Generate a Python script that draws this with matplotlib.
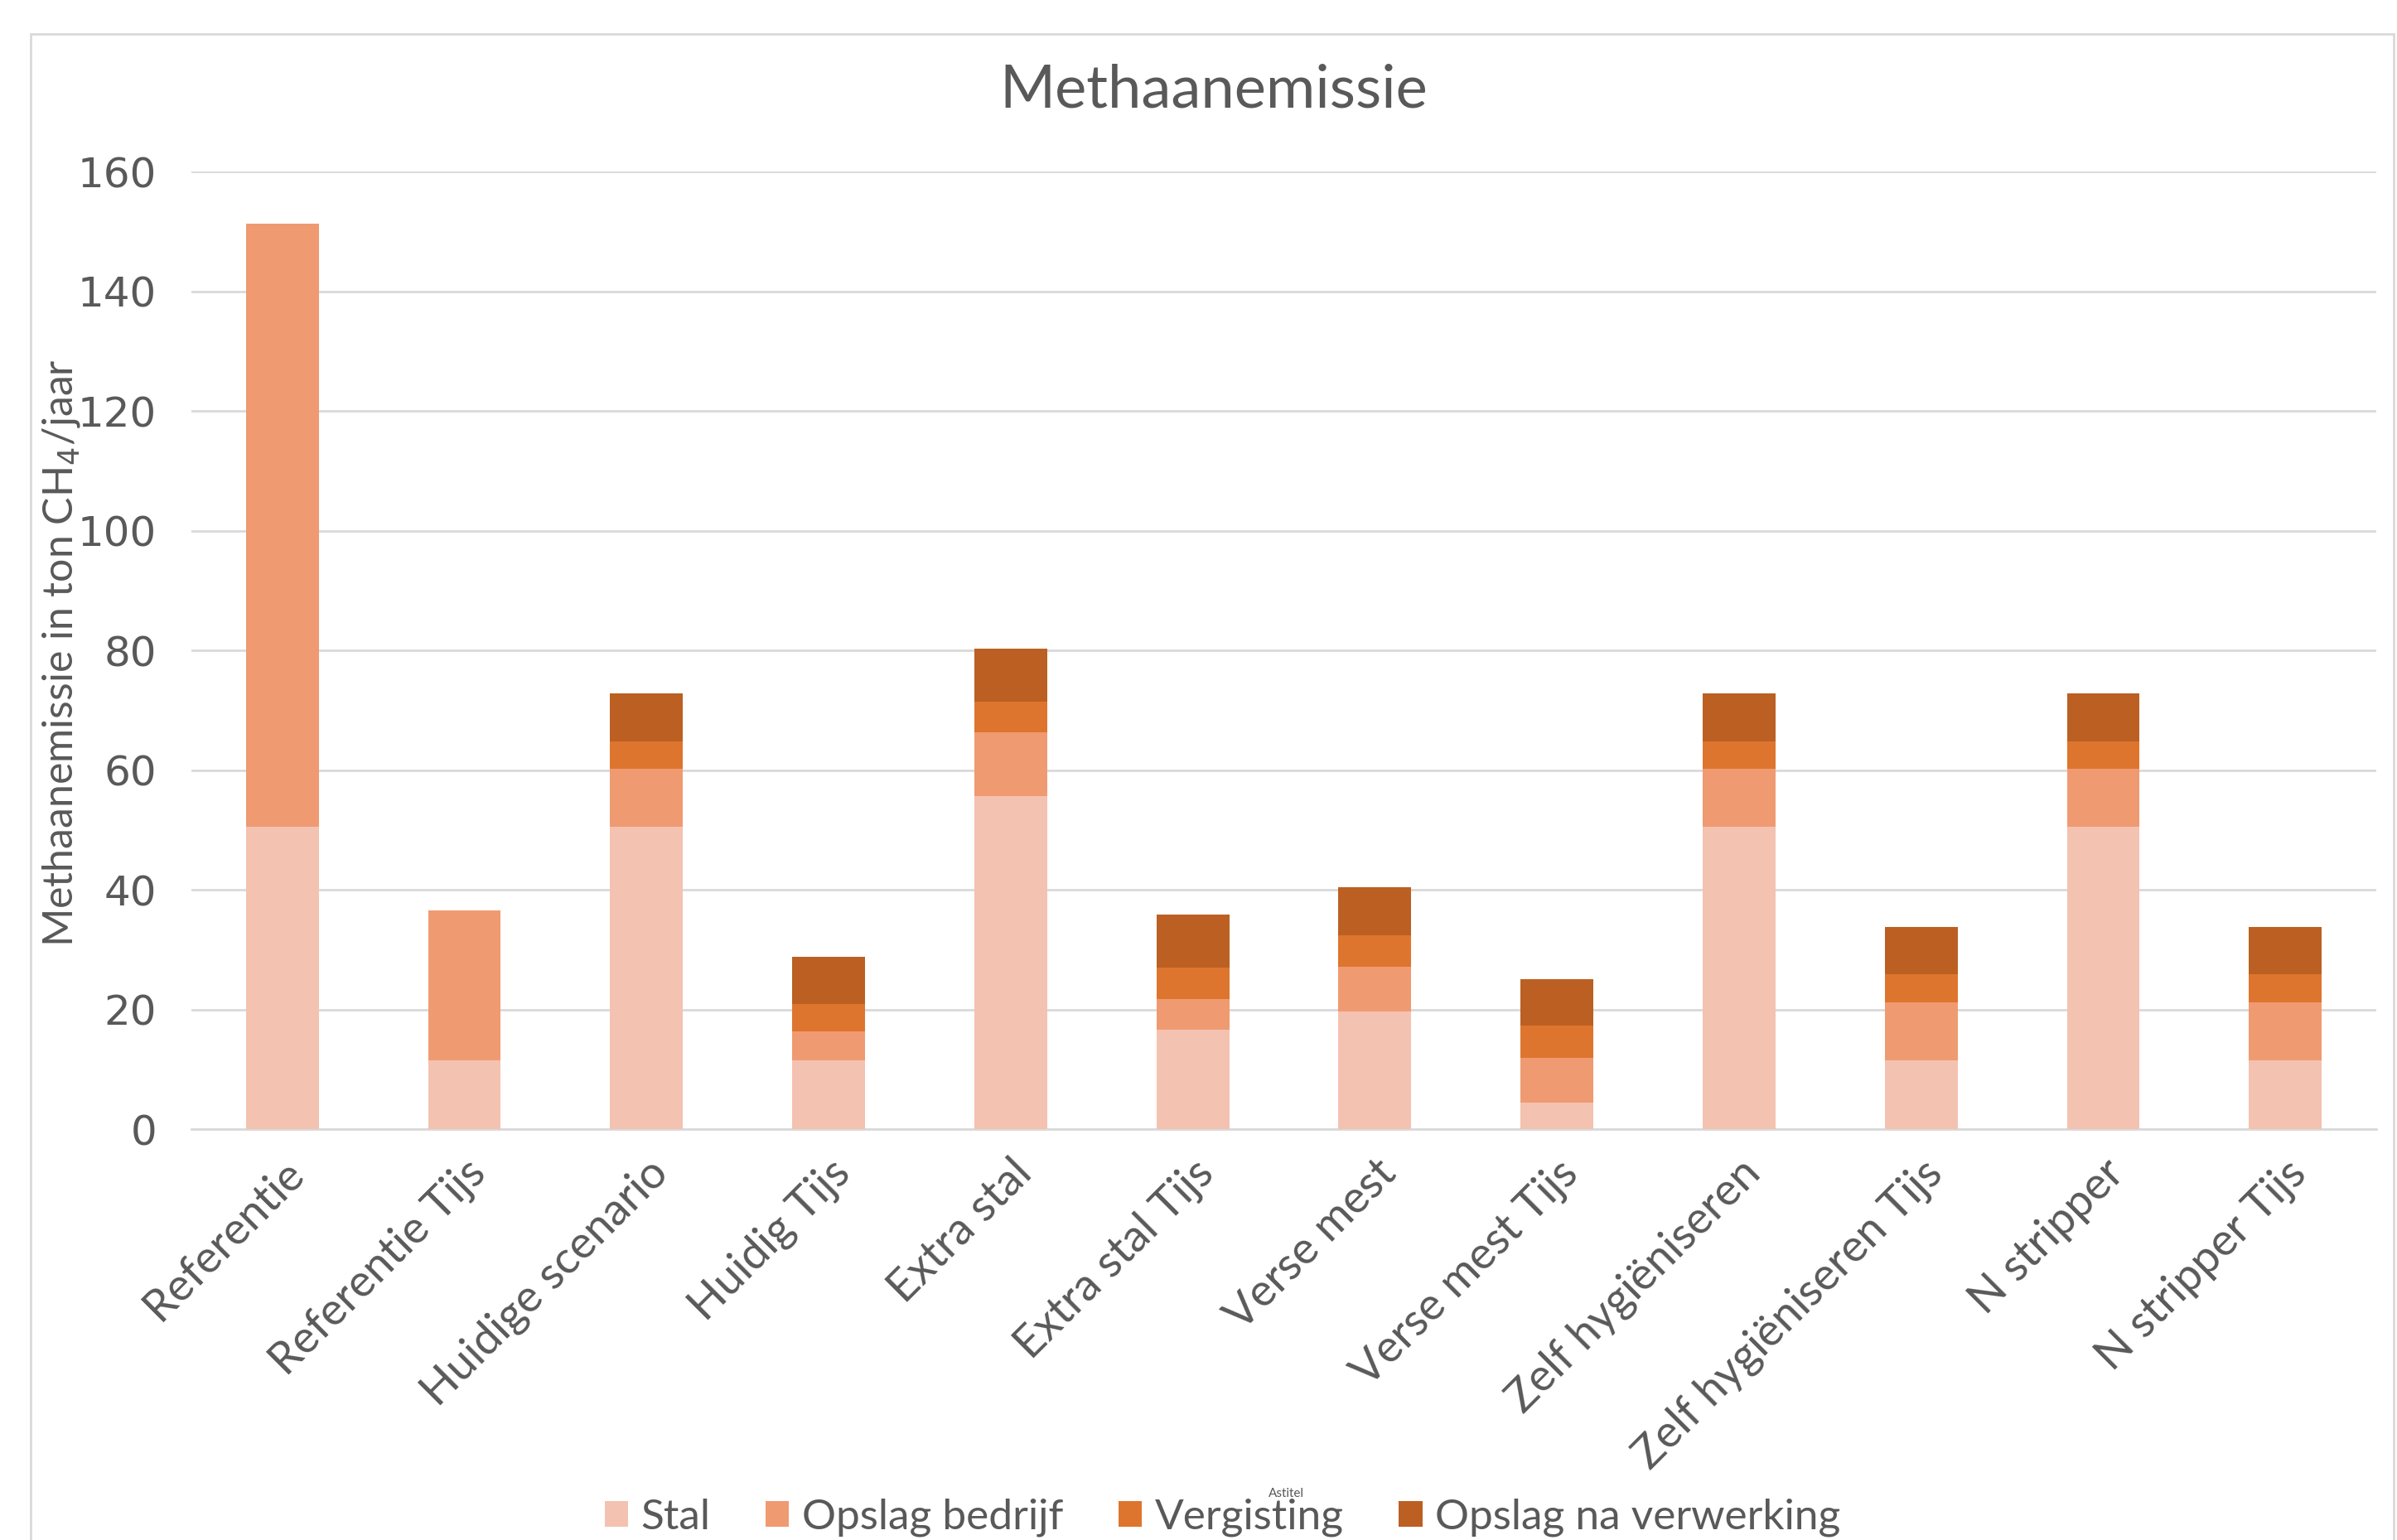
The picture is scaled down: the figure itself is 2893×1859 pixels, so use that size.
import matplotlib
matplotlib.use("Agg")
import numpy as np
from matplotlib import pyplot as plt
from matplotlib.patches import Rectangle

categories = ["Referentie", "Referentie Tijs", "Huidige scenario", "Huidig Tijs",
              "Extra stal", "Extra stal Tijs", "Verse mest", "Verse mest Tijs",
              "Zelf hygiëniseren", "Zelf hygiëniseren Tijs", "N stripper", "N stripper Tijs"]
stal = [50.5, 11.5, 50.5, 11.5, 55.6, 16.6, 19.6, 4.4, 50.5, 11.5, 50.5, 11.5]
opslag_bedrijf = [100.8, 25.1, 9.7, 4.8, 10.7, 5.2, 7.5, 7.5, 9.7, 9.7, 9.7, 9.7]
vergisting = [0, 0, 4.6, 4.6, 5.1, 5.2, 5.3, 5.4, 4.6, 4.7, 4.6, 4.7]
opslag_na = [0, 0, 8.0, 7.9, 8.9, 8.9, 8.0, 7.8, 8.0, 7.9, 8.0, 7.9]

series = ["Stal", "Opslag bedrijf", "Vergisting", "Opslag na verwerking"]
colors = ["#F4C2B1", "#F09A72", "#DE752E", "#BB6022"]
grey = "#595959"

plt.rcParams['font.family'] = ['Lato', 'DejaVu Sans']

fig = plt.figure(figsize=(28.93, 18.59), dpi=100)
ax = fig.add_axes([0.0798, 0.2668, 0.9116, 0.6218])

x = np.arange(len(categories))
bottom = np.zeros(len(categories))
for name, vals, c in zip(series, [stal, opslag_bedrijf, vergisting, opslag_na], colors):
    vals = np.array(vals)
    ax.bar(x, vals, width=0.4, bottom=bottom, color=c, label=name, zorder=3)
    bottom += vals

ax.set_xlim(-0.5, len(categories) - 0.5)
ax.set_ylim(0, 160)
ax.set_yticks(np.arange(0, 161, 20))
ax.grid(axis='y', color="#D9D9D9", linewidth=2, zorder=0)
for s in ['top', 'right', 'left']:
    ax.spines[s].set_visible(False)
ax.spines['bottom'].set_color("#D9D9D9")
ax.spines['bottom'].set_linewidth(2)
ax.tick_params(length=0, colors=grey)
ax.tick_params(axis='y', labelsize=36, pad=30)
for lab in ax.get_yticklabels():
    lab.set_family(['DejaVu Sans'])
ax.set_xticks(x)
ax.set_xticklabels(categories, rotation=45, ha='right', rotation_mode='anchor',
                   fontsize=39, color=grey)
ax.tick_params(axis='x', pad=20)

fig.text(0.5064, 1 - 109 / 1859, "Methaanemissie", ha='center', va='center',
         fontsize=52, color=grey)
fig.text(0.0255, 1 - 788 / 1859, "Methaanemissie in ton CH$_4$/jaar", rotation=90,
         ha='center', va='center', fontsize=36, color=grey,
         family=['Liberation Sans Narrow', 'Lato'])

fig.legend(loc='center', bbox_to_anchor=(0.51, 1 - 1832 / 1859), ncol=4, frameon=False,
           fontsize=37, handlelength=0.55, handleheight=0.55, handletextpad=0.3,
           columnspacing=1.3, labelcolor=grey)
fig.text(0.5365, 1 - 1803 / 1859, "Astitel", ha='center', va='center', fontsize=11, color=grey)

fig.patches.append(Rectangle((37 / 2893, -0.05), (2889 - 37) / 2893, 1.05 - 41 / 1859,
                             transform=fig.transFigure, fill=False,
                             edgecolor="#D9D9D9", linewidth=2))

fig.savefig("out.png", dpi=100)
